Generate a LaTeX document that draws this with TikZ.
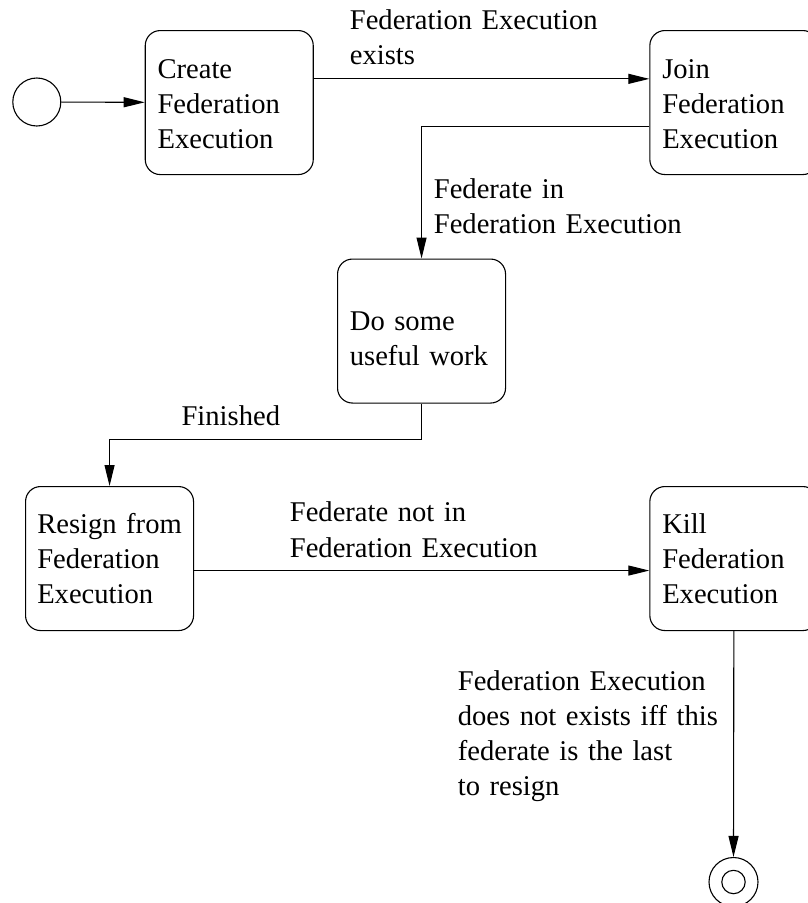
\documentclass[tikz,border=0pt]{standalone}
\usepackage{fontspec}
\setmainfont{Liberation Serif}
\usetikzlibrary{arrows.meta}
\begin{document}
\begin{tikzpicture}[x=1pt,y=-1pt,
  line width=1.1pt,
  statebox/.style={draw, rounded corners=15pt, minimum width=168pt,
    minimum height=144pt, inner sep=0pt, anchor=north west},
  txt/.style={anchor=base west, inner sep=0pt, align=left, text width=280pt,
    font=\fontsize{28.6}{35.3}\selectfont},
  flow/.style={-{Triangle[length=21pt,width=10pt]}},
  pseudo/.style={draw, circle, inner sep=0pt, minimum size=48pt}
]
\useasboundingbox (0,0) rectangle (807,903);

% states
\node[pseudo] (start) at (36.8,102) {};
\node[statebox] (create) at (144.7,30) {};
\node[statebox] (join) at (649.3,30) {};
\node[statebox] (work) at (337,258.5) {};
\node[statebox] (resign) at (25,486) {};
\node[statebox] (kill) at (649.3,486) {};
\node[pseudo, minimum size=49pt] (stop) at (733.5,882) {};
\node[draw, circle, inner sep=0pt, minimum size=23.4pt] (stopdot) at (stop) {};

% state texts
\node[txt] (createtxt) at (157,78) {Create\\Federation\\Execution};
\node[txt] (jointxt) at (661.7,78.3) {Join\\Federation\\Execution};
\node[txt] (worktxt) at (349.3,330) {Do some\\useful work};
\node[txt] (resigntxt) at (36.7,533.3) {Resign from\\Federation\\Execution};
\node[txt] (killtxt) at (661.7,533.3) {Kill\\Federation\\Execution};

% transition labels
\node[txt] (lexists) at (349.3,29.3) {Federation Execution\\exists};
\node[txt] (ljoined) at (433.3,198.3) {Federate in\\Federation Execution};
\node[txt] (lfinished) at (181,425) {Finished};
\node[txt] (lresigned) at (289.3,521.7) {Federate not in\\Federation Execution};
\node[txt] (lkilled) at (457.3,690) {Federation Execution\\does not exists iff this\\federate is the last\\to resign};

% transitions
\draw[flow] (start) -- (create);
\draw[flow] ([yshift=23.7pt]create.east) -- ([yshift=23.7pt]join.west);
\draw[flow] ([yshift=-24pt]join.west) -| (work.north);
\draw[flow] (work.south) -- ++(0,35.8) -| (resign.north);
\draw[flow] ([yshift=-12pt]resign.east) -- ([yshift=-12pt]kill.west);
\draw[flow] (kill.south) -- (stop.north);
\end{tikzpicture}
\end{document}
